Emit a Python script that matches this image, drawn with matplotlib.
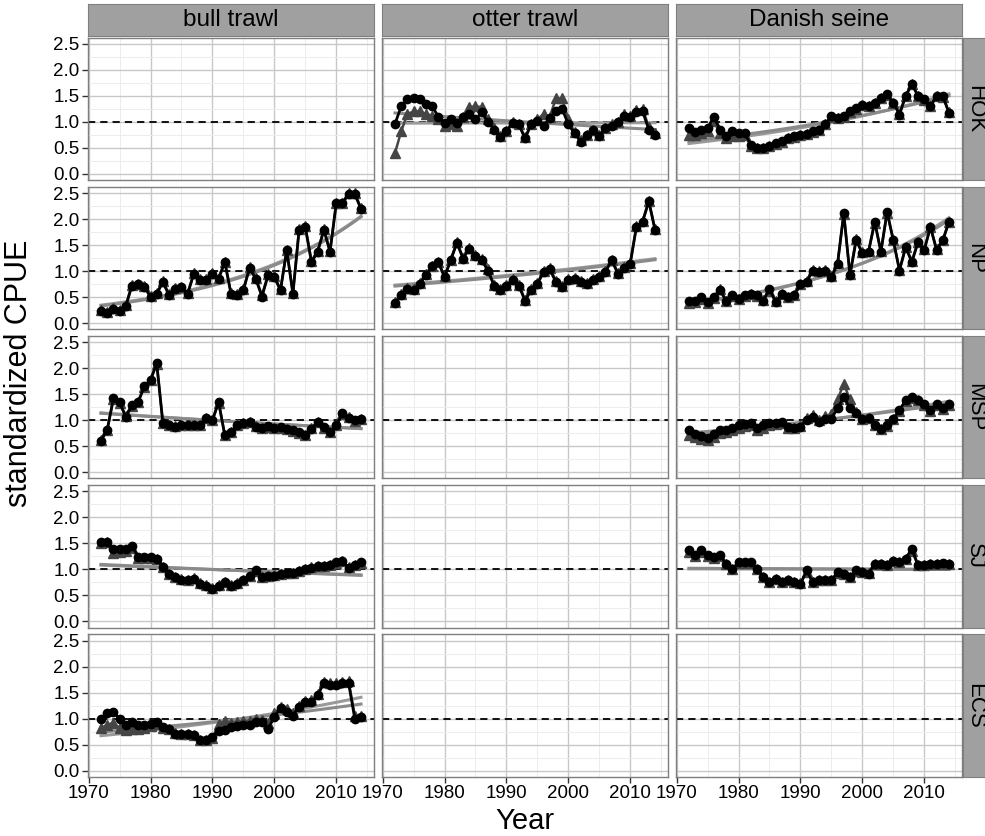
import numpy as np
import matplotlib
matplotlib.use('Agg')
import matplotlib.pyplot as plt
from matplotlib.ticker import MultipleLocator, FormatStrFormatter

plt.rcParams['font.family'] = ['Liberation Sans', 'DejaVu Sans']

years = np.arange(1972, 2015)
gears = ['bull trawl', 'otter trawl', 'Danish seine']
regions = ['HOK', 'NP', 'MSP', 'SJ', 'ECS']

# circles = black series, tri = dark grey series
hok_otter_circ = [0.96, 1.30, 1.43, 1.45, 1.43, 1.35, 1.30, 1.10, 0.98, 1.05,
                  0.97, 1.10, 1.15, 1.05, 1.18, 1.00, 0.85, 0.70, 0.82, 0.98,
                  0.95, 0.68, 0.95, 1.02, 0.92, 1.08, 1.20, 1.25, 0.95, 0.78,
                  0.62, 0.75, 0.85, 0.72, 0.88, 0.92, 1.00, 1.12, 1.10, 1.18,
                  1.20, 0.85, 0.75]
hok_otter_tri = [0.40, 0.82, 1.15, 1.20, 1.20, 1.15, 1.12, 1.05, 0.92, 0.95,
                 0.92, 1.10, 1.28, 1.30, 1.28, 1.05, 0.88, 0.72, 0.82, 1.00,
                 0.95, 0.70, 0.95, 1.05, 1.15, 1.10, 1.45, 1.45, 1.05, 0.80,
                 0.65, 0.75, 0.85, 0.75, 0.88, 0.95, 1.00, 1.15, 1.12, 1.22,
                 1.25, 0.90, 0.78]
hok_danish_circ = [0.88, 0.80, 0.85, 0.88, 1.10, 0.85, 0.72, 0.82, 0.79, 0.78,
                   0.56, 0.50, 0.50, 0.53, 0.60, 0.64, 0.69, 0.72, 0.75, 0.77,
                   0.82, 0.85, 0.95, 1.11, 1.08, 1.11, 1.20, 1.26, 1.33, 1.30,
                   1.37, 1.46, 1.53, 1.37, 1.14, 1.50, 1.72, 1.50, 1.43, 1.30,
                   1.50, 1.50, 1.17]
hok_danish_tri = [0.75, 0.74, 0.78, 0.82, 1.02, 0.78, 0.68, 0.72, 0.72, 0.74,
                  0.54, 0.50, 0.50, 0.53, 0.58, 0.62, 0.68, 0.71, 0.74, 0.76,
                  0.81, 0.85, 0.95, 1.10, 1.08, 1.10, 1.19, 1.25, 1.32, 1.30,
                  1.36, 1.45, 1.52, 1.37, 1.15, 1.50, 1.73, 1.50, 1.42, 1.30,
                  1.50, 1.48, 1.18]
np_bull_circ = [0.24, 0.19, 0.27, 0.24, 0.32, 0.72, 0.75, 0.70, 0.50, 0.56,
                0.79, 0.53, 0.66, 0.69, 0.56, 0.95, 0.83, 0.82, 0.95, 0.85,
                1.17, 0.56, 0.53, 0.63, 1.06, 0.85, 0.51, 0.92, 0.88, 0.63,
                1.40, 0.56, 1.79, 1.85, 1.17, 1.37, 1.79, 1.37, 2.30, 2.30,
                2.48, 2.48, 2.19]
np_bull_tri = [0.25, 0.21, 0.28, 0.25, 0.34, 0.74, 0.76, 0.72, 0.52, 0.58,
               0.80, 0.55, 0.68, 0.70, 0.58, 0.96, 0.85, 0.84, 0.96, 0.87,
               1.18, 0.58, 0.55, 0.65, 1.07, 0.87, 0.53, 0.94, 0.90, 0.65,
               1.41, 0.58, 1.80, 1.86, 1.19, 1.38, 1.80, 1.39, 2.31, 2.31,
               2.50, 2.50, 2.21]
np_otter_circ = [0.38, 0.53, 0.66, 0.64, 0.75, 0.92, 1.09, 1.17, 0.88, 1.21,
                 1.54, 1.24, 1.43, 1.28, 1.21, 1.01, 0.72, 0.63, 0.72, 0.82,
                 0.72, 0.43, 0.63, 0.75, 0.98, 1.03, 0.79, 0.70, 0.82, 0.85,
                 0.79, 0.75, 0.82, 0.88, 0.98, 1.21, 0.95, 1.06, 1.14, 1.85,
                 1.95, 2.34, 1.79]
np_otter_tri = [0.40, 0.55, 0.67, 0.66, 0.77, 0.94, 1.10, 1.18, 0.90, 1.22,
                1.55, 1.26, 1.44, 1.30, 1.23, 1.03, 0.74, 0.65, 0.74, 0.84,
                0.74, 0.45, 0.65, 0.77, 1.00, 1.05, 0.81, 0.72, 0.84, 0.87,
                0.81, 0.77, 0.84, 0.90, 1.00, 1.22, 0.97, 1.08, 1.16, 1.86,
                1.96, 2.35, 1.81]
np_danish_circ = [0.43, 0.43, 0.50, 0.40, 0.50, 0.63, 0.43, 0.53, 0.46, 0.53,
                  0.56, 0.53, 0.43, 0.66, 0.40, 0.56, 0.50, 0.53, 0.75, 0.79,
                  1.01, 0.98, 1.01, 0.88, 1.14, 2.11, 0.92, 1.59, 1.34, 1.37,
                  1.95, 1.37, 2.14, 1.59, 1.01, 1.46, 1.17, 1.56, 1.40, 1.85,
                  1.40, 1.59, 1.95]
np_danish_tri = [0.38, 0.40, 0.46, 0.38, 0.48, 0.66, 0.42, 0.52, 0.46, 0.52,
                 0.55, 0.52, 0.44, 0.62, 0.42, 0.55, 0.50, 0.53, 0.75, 0.80,
                 1.02, 1.00, 1.02, 0.90, 1.15, 2.10, 0.94, 1.62, 1.36, 1.38,
                 1.93, 1.38, 2.12, 1.60, 1.02, 1.46, 1.20, 1.55, 1.42, 1.84,
                 1.42, 1.60, 1.94]
msp_bull_circ = [0.61, 0.81, 1.42, 1.35, 1.06, 1.29, 1.35, 1.65, 1.77, 2.10,
                 0.94, 0.90, 0.87, 0.90, 0.90, 0.90, 0.90, 1.05, 1.00, 1.35,
                 0.71, 0.77, 0.90, 0.94, 0.97, 0.87, 0.86, 0.88, 0.86, 0.87,
                 0.84, 0.81, 0.77, 0.71, 0.84, 0.97, 0.87, 0.77, 0.90, 1.13,
                 1.05, 1.00, 1.03]
msp_bull_tri = [0.62, 0.82, 1.40, 1.34, 1.08, 1.28, 1.36, 1.64, 1.78, 2.08,
                0.95, 0.91, 0.88, 0.90, 0.91, 0.90, 0.91, 1.04, 1.01, 1.34,
                0.72, 0.78, 0.91, 0.95, 0.96, 0.88, 0.86, 0.87, 0.85, 0.86,
                0.83, 0.80, 0.76, 0.72, 0.85, 0.96, 0.86, 0.78, 0.91, 1.12,
                1.06, 0.99, 1.02]
msp_danish_circ = [0.82, 0.74, 0.69, 0.66, 0.73, 0.82, 0.81, 0.86, 0.90, 0.92,
                   0.95, 0.86, 0.90, 0.94, 0.95, 0.97, 0.87, 0.86, 0.87, 1.01,
                   1.06, 0.97, 1.03, 1.03, 1.23, 1.45, 1.23, 1.13, 1.03, 1.05,
                   0.90, 0.84, 0.90, 1.03, 1.19, 1.39, 1.45, 1.39, 1.32, 1.19,
                   1.32, 1.23, 1.31]
msp_danish_tri = [0.72, 0.68, 0.64, 0.62, 0.68, 0.76, 0.78, 0.82, 0.85, 0.88,
                  0.90, 0.82, 0.86, 0.90, 0.92, 0.95, 0.86, 0.85, 0.88, 1.05,
                  1.10, 1.00, 1.08, 1.12, 1.40, 1.70, 1.40, 1.15, 1.02, 1.04,
                  0.90, 0.84, 0.89, 1.02, 1.18, 1.37, 1.43, 1.38, 1.30, 1.18,
                  1.30, 1.22, 1.29]
sj_bull_circ = [1.53, 1.53, 1.40, 1.40, 1.40, 1.46, 1.24, 1.23, 1.23, 1.21,
                1.05, 0.92, 0.85, 0.80, 0.79, 0.82, 0.72, 0.69, 0.63, 0.69,
                0.75, 0.69, 0.72, 0.79, 0.88, 0.98, 0.85, 0.88, 0.88, 0.92,
                0.93, 0.93, 0.97, 1.01, 1.03, 1.06, 1.06, 1.08, 1.14, 1.17,
                1.03, 1.08, 1.14]
sj_bull_tri = [1.50, 1.52, 1.32, 1.34, 1.36, 1.42, 1.22, 1.22, 1.22, 1.20,
               1.04, 0.92, 0.85, 0.81, 0.80, 0.83, 0.73, 0.70, 0.65, 0.70,
               0.76, 0.70, 0.73, 0.80, 0.88, 0.97, 0.86, 0.88, 0.89, 0.92,
               0.94, 0.94, 0.97, 1.01, 1.04, 1.06, 1.07, 1.08, 1.13, 1.16,
               1.04, 1.08, 1.13]
sj_danish_circ = [1.37, 1.27, 1.37, 1.27, 1.24, 1.27, 1.11, 1.01, 1.14, 1.14,
                  1.14, 1.01, 0.85, 0.75, 0.82, 0.75, 0.79, 0.75, 0.72, 0.98,
                  0.75, 0.79, 0.79, 0.79, 0.95, 0.92, 0.85, 0.98, 0.95, 0.92,
                  1.11, 1.11, 1.08, 1.17, 1.14, 1.21, 1.40, 1.08, 1.08, 1.11,
                  1.11, 1.12, 1.11]
sj_danish_tri = [1.33, 1.25, 1.34, 1.25, 1.22, 1.25, 1.10, 1.00, 1.12, 1.13,
                 1.12, 1.00, 0.85, 0.76, 0.82, 0.76, 0.79, 0.76, 0.73, 0.96,
                 0.76, 0.79, 0.79, 0.80, 0.94, 0.92, 0.86, 0.97, 0.95, 0.93,
                 1.10, 1.10, 1.08, 1.16, 1.14, 1.20, 1.36, 1.08, 1.08, 1.10,
                 1.10, 1.11, 1.10]
ecs_bull_circ = [1.00, 1.10, 1.13, 1.00, 0.87, 0.94, 0.87, 0.87, 0.90, 0.94,
                 0.84, 0.81, 0.71, 0.71, 0.71, 0.68, 0.58, 0.59, 0.65, 0.77,
                 0.79, 0.84, 0.85, 0.87, 0.87, 0.94, 0.94, 0.81, 1.03, 1.21,
                 1.13, 1.06, 1.23, 1.32, 1.32, 1.45, 1.68, 1.64, 1.64, 1.68,
                 1.68, 1.00, 1.03]
ecs_bull_tri = [0.82, 0.88, 0.92, 0.82, 0.78, 0.80, 0.80, 0.82, 0.85, 0.90,
                0.82, 0.80, 0.72, 0.70, 0.70, 0.68, 0.58, 0.58, 0.62, 0.90,
                0.95, 0.92, 0.94, 0.95, 0.96, 1.00, 0.98, 0.92, 1.10, 1.22,
                1.18, 1.10, 1.24, 1.34, 1.35, 1.48, 1.70, 1.68, 1.68, 1.70,
                1.72, 1.05, 1.06]

panels = {
    ('HOK', 'otter trawl'): (hok_otter_circ, hok_otter_tri),
    ('HOK', 'Danish seine'): (hok_danish_circ, hok_danish_tri),
    ('NP', 'bull trawl'): (np_bull_circ, np_bull_tri),
    ('NP', 'otter trawl'): (np_otter_circ, np_otter_tri),
    ('NP', 'Danish seine'): (np_danish_circ, np_danish_tri),
    ('MSP', 'bull trawl'): (msp_bull_circ, msp_bull_tri),
    ('MSP', 'Danish seine'): (msp_danish_circ, msp_danish_tri),
    ('SJ', 'bull trawl'): (sj_bull_circ, sj_bull_tri),
    ('SJ', 'Danish seine'): (sj_danish_circ, sj_danish_tri),
    ('ECS', 'bull trawl'): (ecs_bull_circ, ecs_bull_tri),
}

W, H = 985, 836
col_left = [88, 382, 676]
col_w = 286
row_top = [37.6, 186.8, 336.0, 485.2, 634.4]
row_h = 142.5


def px_axes(fig, x, y, w, h):
    return fig.add_axes([x / W, 1 - (y + h) / H, w / W, h / H])


def log_trend(y):
    # log-linear trend, as in the original fits
    coef = np.polyfit(years, np.log(np.asarray(y)), 1)
    return np.exp(np.polyval(coef, years))


fig = plt.figure(figsize=(W / 100, H / 100), dpi=100)

for r, reg in enumerate(regions):
    for c, gear in enumerate(gears):
        ax = px_axes(fig, col_left[c], row_top[r], col_w, row_h)
        ax.set_xlim(1969.9, 2016.1)
        ax.set_ylim(-0.12, 2.62)
        ax.xaxis.set_major_locator(MultipleLocator(10))
        ax.xaxis.set_minor_locator(MultipleLocator(5))
        ax.yaxis.set_major_locator(MultipleLocator(0.5))
        ax.yaxis.set_minor_locator(MultipleLocator(0.25))
        ax.yaxis.set_major_formatter(FormatStrFormatter('%.1f'))
        ax.xaxis.set_major_formatter(FormatStrFormatter('%d'))
        ax.set_axisbelow(True)
        ax.grid(which='major', color='#c8c8c8', lw=1.0)
        ax.grid(which='minor', color='#ececec', lw=0.7)
        for s in ax.spines.values():
            s.set_color('#7f7f7f')
            s.set_linewidth(1.0)
        ax.tick_params(which='minor', length=0)
        ax.tick_params(which='major', length=4, width=1.0, color='#333333',
                       labelsize=13.5, pad=2)
        ax.tick_params(axis='x', labelbottom=(r == 4), length=4 if r == 4 else 0)
        ax.tick_params(axis='y', labelleft=(c == 0), length=4 if c == 0 else 0)

        ax.axhline(1.0, color='black', ls=(0, (4, 2.8)), lw=1.3, zorder=2)

        key = (reg, gear)
        if key in panels:
            circ, tri = panels[key]
            ax.plot(years, log_trend(tri), color='#9a9a9a', lw=2.2, zorder=3)
            ax.plot(years, log_trend(circ), color='#8a8a8a', lw=2.2, zorder=3)
            ax.plot(years, tri, color='#454545', lw=1.8, marker='^', ms=7.5,
                    zorder=4)
            ax.plot(years, circ, color='black', lw=2.0, marker='o', ms=6,
                    zorder=5)

        if r == 0:
            sax = px_axes(fig, col_left[c], 4, col_w, 32)
            sax.set_facecolor('#a0a0a0')
            sax.set_xticks([])
            sax.set_yticks([])
            for s in sax.spines.values():
                s.set_color('#7f7f7f')
            sax.text(0.5, 0.5, gear, ha='center', va='center', fontsize=17.5,
                     transform=sax.transAxes)
        if c == 2:
            sax = px_axes(fig, 963, row_top[r], 32, row_h)
            sax.set_facecolor('#a0a0a0')
            sax.set_xticks([])
            sax.set_yticks([])
            for s in sax.spines.values():
                s.set_color('#7f7f7f')
            sax.text(11.5 / 32, 0.5, reg, ha='center', va='center',
                     fontsize=16, rotation=-90, transform=sax.transAxes)

fig.text(525 / W, 1 - 821 / H, 'Year', ha='center', va='center', fontsize=21)
fig.text(19 / W, 1 - 373 / H, 'standardized CPUE', ha='center', va='center',
         rotation=90, fontsize=22)

fig.savefig('out.png', dpi=100)
